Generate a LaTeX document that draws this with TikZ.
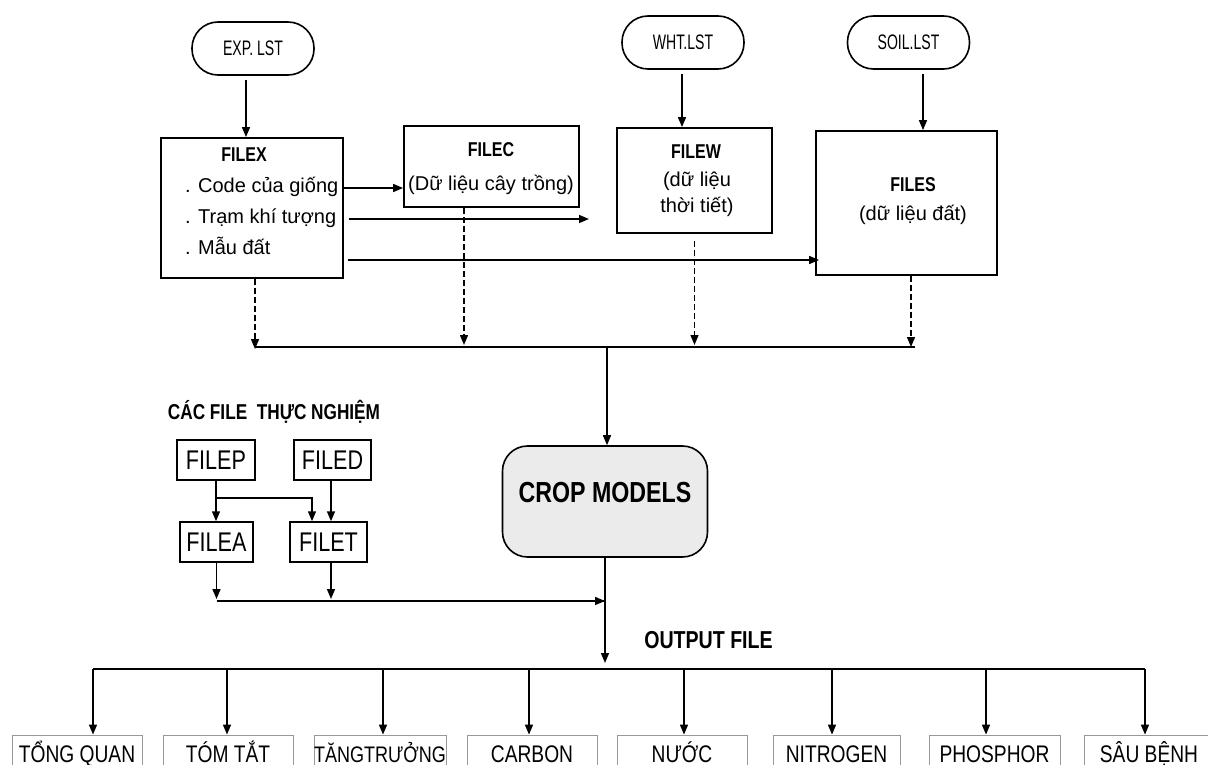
\documentclass[tikz,border=0pt]{standalone}
\usepackage{fontspec}
\setmainfont{Liberation Sans}
\newfontfamily\cf{Liberation Sans}[FakeStretch=0.8]
\newfontfamily\cfn{Liberation Sans}[FakeStretch=0.67]
\usetikzlibrary{arrows.meta}
\begin{document}
\begin{tikzpicture}[x=1pt,y=-1pt,
  arr/.style={-{Triangle[length=10pt,width=8pt]}, line width=1.5pt},
  darr/.style={-{Triangle[length=10pt,width=8pt]}, line width=1.4pt, dash pattern=on 6pt off 3pt},
  plain/.style={line width=1.5pt},
  box/.style={draw, line width=1.8pt, inner sep=0pt},
  stad/.style={draw, line width=1.6pt, rounded corners=26pt, minimum width=122pt, minimum height=53pt, inner sep=0pt, font=\cfn\fontsize{21}{24}\selectfont},
  hd/.style={font=\cf\bfseries\fontsize{20}{22}\selectfont, inner sep=0pt},
  bd/.style={font=\fontsize{20}{24}\selectfont, inner sep=0pt},
  sbox/.style={draw, line width=1.5pt, inner sep=0pt, minimum height=40pt, font=\cf\fontsize{27}{30}\selectfont},
  obox/.style={draw=black!40, line width=0.8pt, minimum width=130pt, inner xsep=0pt, text height=18pt, text depth=5pt, inner ysep=9pt, anchor=base, font=\cf\fontsize{24}{28}\selectfont},
]
\useasboundingbox (0,0) rectangle (1208,765);
\fill[white] (0,0) rectangle (1208,765);

% list files
\node[stad] (exp) at (253,48.5) {EXP. LST};
\node[stad] (wht) at (683,42.5) {WHT.LST};
\node[stad] (soil) at (908.5,42.5) {SOIL.LST};

% main boxes
\node[box, minimum width=182pt, minimum height=140pt] (filex) at (252,208) {};
\node[box, minimum width=175pt, minimum height=81pt] (filec) at (491.5,166.5) {};
\node[box, minimum width=155pt, minimum height=105pt] (filew) at (694.5,180.5) {};
\node[box, minimum width=181pt, minimum height=144pt] (files) at (906.5,203) {};

\node[hd] (filext) at (244,155) {FILEX};
\node[bd, anchor=base west] (fx1) at (185,193) {. Code của giống};
\node[bd, anchor=base west] (fx2) at (185,223.5) {. Trạm khí tượng};
\node[bd, anchor=base west] (fx3) at (185,254) {. Mẫu đất};

\node[hd] (filect) at (491,150) {FILEC};
\node[bd] (filecd) at (491,185) {(Dữ liệu cây trồng)};

\node[hd] (filewt) at (696,152) {FILEW};
\node[bd] (filewd1) at (697,181) {(dữ liệu};
\node[bd] (filewd2) at (697,207) {thời tiết)};

\node[hd] (filest) at (913,185) {FILES};
\node[bd] (filesd) at (913,215) {(dữ liệu đất)};

% arrows from list files
\draw[arr] ([xshift=-7pt,yshift=-4pt]exp.south) -- ([xshift=-6pt]filex.north);
\draw[arr] ([xshift=-1pt,yshift=-4pt]wht.south) -- ([xshift=-1pt]wht.south |- filew.north);
\draw[arr] ([xshift=14.5pt,yshift=-4pt]soil.south) -- ([xshift=14.5pt]soil.south |- files.north);

% FILEX outputs
\coordinate (coderow) at (0,188);
\coordinate (tramend) at (589,219);
\coordinate (maurow) at (0,260);
\draw[arr] (filex.east |- coderow) -- (filec.west |- coderow);
\draw[arr] ([xshift=5pt]filex.east |- tramend) -- (tramend);
\draw[arr] ([xshift=4pt]filex.east |- maurow) -- ([xshift=4pt]files.west |- maurow);

% dashed collectors
\coordinate (c1) at (255,347);
\coordinate (c2) at (915,347);
\draw[darr] ([xshift=3pt]filex.south) -- ([xshift=3pt,yshift=-2pt]filex.south |- c1);
\draw[darr] ([xshift=-27.5pt]filec.south) -- ([xshift=-27.5pt,yshift=2pt]filec.south |- c1);
\draw[darr] ([yshift=-7pt]filew.south) -- ([yshift=2pt]filew.south |- c1);
\draw[darr] ([xshift=4.5pt]files.south) -- ([xshift=4.5pt]files.south |- c1);
\draw[plain] (c1) -- (c2);

% crop models
\node[draw, line width=1.6pt, fill=black!8, rounded corners=25pt, minimum width=205pt, minimum height=111pt, text height=21pt, text depth=19pt, font=\cf\bfseries\fontsize{29}{32}\selectfont] (crop) at (605,501.5) {CROP MODELS};
\draw[arr] ([xshift=2pt]crop.north |- c1) -- ([xshift=2pt]crop.north);

% experiment files
\node[font=\cf\bfseries\fontsize{21.5}{24}\selectfont] (cacfile) at (274,412) {CÁC FILE\ \ THỰC NGHIỆM};
\node[sbox, minimum width=78pt] (filep) at (216,460) {FILEP};
\node[sbox, minimum width=77pt] (filed) at (332.5,460) {FILED};
\node[sbox, minimum width=73pt] (filea) at (216.5,542) {FILEA};
\node[sbox, minimum width=77pt] (filet) at (328.5,542) {FILET};

\coordinate (br) at (312,498);
\draw[arr] (filep.south) -- (filep.south |- filea.north);
\draw[arr] (filep.south |- br) -- (br) -- (br |- filet.north);
\draw[arr] ([xshift=-1.5pt]filed.south) -- ([xshift=-1.5pt]filed.south |- filet.north);

\coordinate (colL) at (216.5,601);
\draw[arr] (filea.south) -- ([yshift=2pt]filea.south |- colL);
\draw[arr] ([xshift=2.5pt]filet.south) -- ([xshift=2.5pt,yshift=2pt]filet.south |- colL);
\draw[plain] (colL) -- (crop.south |- colL);
\draw[arr] ([xshift=-25pt]crop.south |- colL) -- (crop.south |- colL);

% output
\coordinate (busL) at (93,669);
\coordinate (busR) at (1145,669);
\draw[arr] (crop.south) -- ([yshift=6pt]crop.south |- busL);
\node[font=\cf\bfseries\fontsize{24.5}{27}\selectfont] (outlbl) at (708.5,640) {OUTPUT FILE};
\draw[line width=2.5pt] (busL) -- (busR);

\node[obox] (o1) at (77,762) {TỔNG QUAN};
\node[obox] (o2) at (228,762) {TÓM TẮT};
\node[obox, font=\cf\fontsize{22.5}{26}\selectfont] (o3) at (380,762) {TĂNGTRƯỞNG};
\node[obox] (o4) at (532,762) {CARBON};
\node[obox] (o5) at (682,762) {NƯỚC};
\node[obox, minimum width=127pt] (o6) at (836.5,762) {NITROGEN};
\node[obox, minimum width=131pt] (o7) at (994.5,762) {PHOSPHOR};
\node[obox] (o8) at (1149,762) {SÂU BỆNH};

\foreach \n/\s in {o1/16,o2/-1,o3/3,o4/-3,o5/2,o6/-4.5,o7/-8.5,o8/-4} {
  \draw[arr] ([xshift=\s pt]\n.north |- busL) -- ([xshift=\s pt]\n.north);
}
\end{tikzpicture}
\end{document}
